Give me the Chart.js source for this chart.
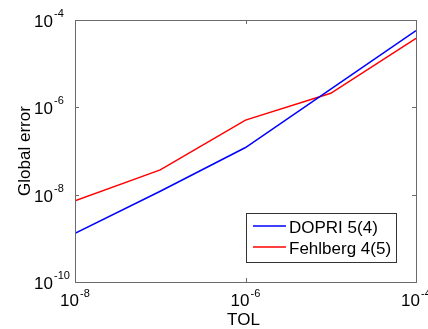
<!DOCTYPE html>
<html>
<head>
<meta charset="utf-8">
<script src="https://cdn.jsdelivr.net/npm/chart.js@4/dist/chart.umd.min.js"></script>
<style>
  html, body { margin: 0; padding: 0; background: #fff; }
  #wrap { width: 428px; height: 329px; }
</style>
</head>
<body>
<div id="wrap"><canvas id="errChart"></canvas></div>
<script>
// Tolerances on the x axis and global error for each method
const tol = [1e-8, 1e-7, 1e-6, 1e-5, 1e-4];
const dopri = [1.3e-9, 1.2e-8, 1.2e-7, 2.6e-6, 5.7e-5];
const fehlberg = [7.2e-9, 3.7e-8, 5.1e-7, 2.1e-6, 3.8e-5];

// Decade ticks that get a label
const xTicks = [1e-8, 1e-6, 1e-4];
const yTicks = [1e-10, 1e-8, 1e-6, 1e-4];

const FONT = '"Liberation Sans", Arial, sans-serif';
const AXIS_COLOR = '#6a6a6a';

function toPoints(xs, ys) {
  return xs.map((x, i) => ({ x: x, y: ys[i] }));
}

// Draws the MATLAB-like box, inward ticks, 10^n labels, axis titles and legend
const matlabAxes = {
  id: 'matlabAxes',
  afterDraw(chart) {
    const ctx = chart.ctx;
    const a = chart.chartArea;
    const xs = chart.scales.x;
    const ys = chart.scales.y;
    ctx.save();

    // box
    ctx.strokeStyle = AXIS_COLOR;
    ctx.lineWidth = 1;
    ctx.strokeRect(Math.round(a.left) + 0.5, Math.round(a.top) + 0.5,
      Math.round(a.right - a.left), Math.round(a.bottom - a.top));

    // ticks
    const tl = 4;
    ctx.beginPath();
    xTicks.forEach(v => {
      const px = Math.round(xs.getPixelForValue(v)) + 0.5;
      ctx.moveTo(px, a.bottom); ctx.lineTo(px, a.bottom - tl);
      ctx.moveTo(px, a.top); ctx.lineTo(px, a.top + tl);
    });
    yTicks.forEach(v => {
      const py = Math.round(ys.getPixelForValue(v)) + 0.5;
      ctx.moveTo(a.left, py); ctx.lineTo(a.left + tl, py);
      ctx.moveTo(a.right, py); ctx.lineTo(a.right - tl, py);
    });
    ctx.stroke();

    // tick labels
    ctx.fillStyle = '#000';
    ctx.textBaseline = 'alphabetic';
    yTicks.forEach(v => {
      const py = ys.getPixelForValue(v);
      const exp = Math.round(Math.log10(v));
      ctx.font = '17px ' + FONT;
      ctx.textAlign = 'right';
      ctx.fillText('10', a.left - 22, py + 7);
      ctx.font = '11px ' + FONT;
      ctx.textAlign = 'left';
      ctx.fillText(String(exp), a.left - 21, py - 3);
    });
    xTicks.forEach(v => {
      const px = xs.getPixelForValue(v);
      const exp = Math.round(Math.log10(v));
      ctx.font = '17px ' + FONT;
      ctx.textAlign = 'right';
      ctx.fillText('10', px + 4, a.bottom + 24);
      ctx.font = '11px ' + FONT;
      ctx.textAlign = 'left';
      ctx.fillText(String(exp), px + 5, a.bottom + 15);
    });

    // axis titles
    ctx.font = '17px ' + FONT;
    ctx.textAlign = 'center';
    ctx.fillText('TOL', (a.left + a.right) / 2 - 2, a.bottom + 43);
    ctx.save();
    ctx.translate(30, (a.top + a.bottom) / 2);
    ctx.rotate(-Math.PI / 2);
    ctx.fillText('Global error', 0, 0);
    ctx.restore();

    // legend
    const lx = 246, ly = 213, lw = 150, lh = 49;
    ctx.fillStyle = '#fff';
    ctx.fillRect(lx, ly, lw, lh);
    ctx.strokeStyle = '#333';
    ctx.lineWidth = 1;
    ctx.strokeRect(lx + 0.5, ly + 0.5, lw, lh);
    chart.data.datasets.forEach((ds, i) => {
      const rowY = ly + 13 + i * 21;
      ctx.strokeStyle = ds.borderColor;
      ctx.lineWidth = 1.5;
      ctx.beginPath();
      ctx.moveTo(lx + 7, rowY); ctx.lineTo(lx + 40, rowY);
      ctx.stroke();
      ctx.fillStyle = '#000';
      ctx.textAlign = 'left';
      ctx.font = '17px ' + FONT;
      ctx.fillText(ds.label, lx + 43, rowY + 7);
    });

    ctx.restore();
  }
};

new Chart(document.getElementById('errChart'), {
  type: 'line',
  data: {
    datasets: [
      {
        label: 'DOPRI 5(4)',
        data: toPoints(tol, dopri),
        borderColor: '#0000ff',
        borderWidth: 1.5,
        pointRadius: 0,
        tension: 0
      },
      {
        label: 'Fehlberg 4(5)',
        data: toPoints(tol, fehlberg),
        borderColor: '#ff0000',
        borderWidth: 1.5,
        pointRadius: 0,
        tension: 0
      }
    ]
  },
  options: {
    responsive: true,
    maintainAspectRatio: false,
    animation: false,
    layout: { padding: { left: 75, top: 20, right: 12, bottom: 47 } },
    plugins: {
      legend: { display: false },
      tooltip: { enabled: false }
    },
    scales: {
      x: {
        type: 'logarithmic',
        min: 1e-8,
        max: 1e-4,
        ticks: { display: false },
        grid: { display: false, drawTicks: false },
        border: { display: false }
      },
      y: {
        type: 'logarithmic',
        min: 1e-10,
        max: 1e-4,
        ticks: { display: false },
        grid: { display: false, drawTicks: false },
        border: { display: false }
      }
    }
  },
  plugins: [matlabAxes]
});
</script>
</body>
</html>
